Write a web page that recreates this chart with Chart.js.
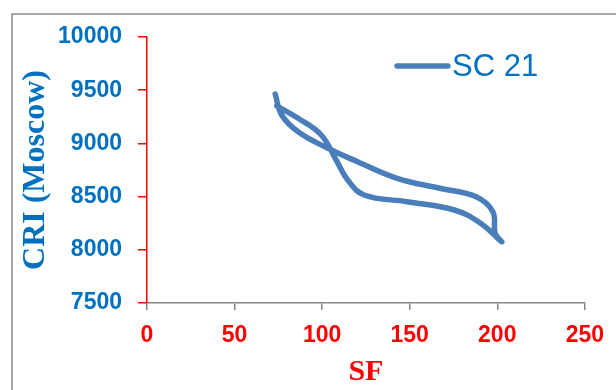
<!DOCTYPE html>
<html>
<head>
<meta charset="utf-8">
<script src="https://cdn.jsdelivr.net/npm/chart.js@4/dist/chart.umd.min.js"></script>
<style>
  html, body { margin: 0; padding: 0; background: #fff; }
  #wrap { width: 616px; height: 390px; }
</style>
</head>
<body>
<div id="wrap"><canvas id="cri-chart" width="616" height="390"></canvas></div>
<script>
// SF vs CRI (Moscow) - path, in drawing order
const seriesLabel = 'SC 21';
const sfValues  = [73.2, 76.9, 86.3, 104.2, 120.2, 142.8, 167.2, 187.9, 197.5, 198.8, 202.5, 190.5, 175.5, 148.4, 124.0, 114.6, 108.0, 99.5, 86.3, 74.1];
const criValues = [9464, 9267, 9110, 8947, 8828, 8672, 8578, 8499, 8358, 8155, 8076, 8249, 8374, 8452, 8515, 8656, 8844, 9079, 9236, 9352];
const xTicks = [0, 50, 100, 150, 200, 250];
const yTicks = [7500, 8000, 8500, 9000, 9500, 10000];

const BLUE = '#0070C0';
const RED = '#FF0000';
const LINE = '#4A7EBB';

const points = sfValues.map((x, i) => ({ x: x, y: criValues[i] }));

// grey frame around the chart
const framePlugin = {
    id: 'frame',
    beforeDraw(chart) {
        const c = chart.ctx;
        c.save();
        c.strokeStyle = '#8c8c8c';
        c.lineWidth = 1.5;
        c.strokeRect(12, 14, 700, 500);
        c.restore();
    }
};

// legend drawn inside the plot area, top right
const legendPlugin = {
    id: 'insideLegend',
    afterDraw(chart) {
        const c = chart.ctx;
        const ds = chart.data.datasets[0];
        c.save();
        c.strokeStyle = ds.borderColor;
        c.lineWidth = 5.5;
        c.lineCap = 'round';
        c.beginPath();
        c.moveTo(397, 66);
        c.lineTo(448, 66);
        c.stroke();
        c.fillStyle = BLUE;
        c.font = '31px "Liberation Sans", Arial, sans-serif';
        c.textBaseline = 'middle';
        c.fillText(ds.label, 452, 67);
        c.restore();
    }
};

new Chart(document.getElementById('cri-chart').getContext('2d'), {
    type: 'scatter',
    data: {
        datasets: [{
            label: seriesLabel,
            data: points,
            showLine: true,
            borderColor: LINE,
            borderWidth: 5.5,
            borderCapStyle: 'round',
            borderJoinStyle: 'round',
            tension: 0.4,
            pointRadius: 0,
            pointHoverRadius: 0
        }]
    },
    options: {
        responsive: false,
        animation: false,
        events: [],
        layout: { padding: { top: 37, right: 26, left: 0, bottom: 0 } },
        plugins: {
            legend: { display: false },
            tooltip: { enabled: false }
        },
        scales: {
            x: {
                type: 'linear',
                min: xTicks[0],
                max: xTicks[xTicks.length - 1],
                afterBuildTicks: s => { s.ticks = xTicks.map(v => ({ value: v })); },
                afterFit: s => { s.height = 87; },
                border: { color: '#868686', width: 1.5 },
                grid: { drawOnChartArea: false, color: '#868686', tickLength: 7, lineWidth: 1.5 },
                ticks: {
                    color: RED,
                    padding: 12,
                    callback: v => String(v),
                    font: { family: '"Liberation Sans", Arial, sans-serif', size: 23, weight: 'bold' }
                },
                title: {
                    display: true,
                    text: 'SF',
                    color: RED,
                    padding: { top: 0, bottom: 0 },
                    font: { family: '"Liberation Serif", "Times New Roman", serif', size: 30, weight: 'bold', lineHeight: 1.2 }
                }
            },
            y: {
                type: 'linear',
                min: yTicks[0],
                max: yTicks[yTicks.length - 1],
                afterBuildTicks: s => { s.ticks = yTicks.map(v => ({ value: v })); },
                afterFit: s => { s.width = 147; },
                border: { color: RED, width: 1.5 },
                grid: { drawOnChartArea: false, color: RED, tickLength: 9, lineWidth: 1.5 },
                ticks: {
                    color: BLUE,
                    padding: 16,
                    callback: v => String(v),
                    font: { family: '"Liberation Sans", Arial, sans-serif', size: 23, weight: 'bold' }
                },
                title: {
                    display: true,
                    text: 'CRI (Moscow)',
                    color: BLUE,
                    padding: { top: 17, bottom: 0 },
                    font: { family: '"Liberation Serif", "Times New Roman", serif', size: 32, weight: 'bold', lineHeight: 1.2 }
                }
            }
        }
    },
    plugins: [framePlugin, legendPlugin]
});
</script>
</body>
</html>
